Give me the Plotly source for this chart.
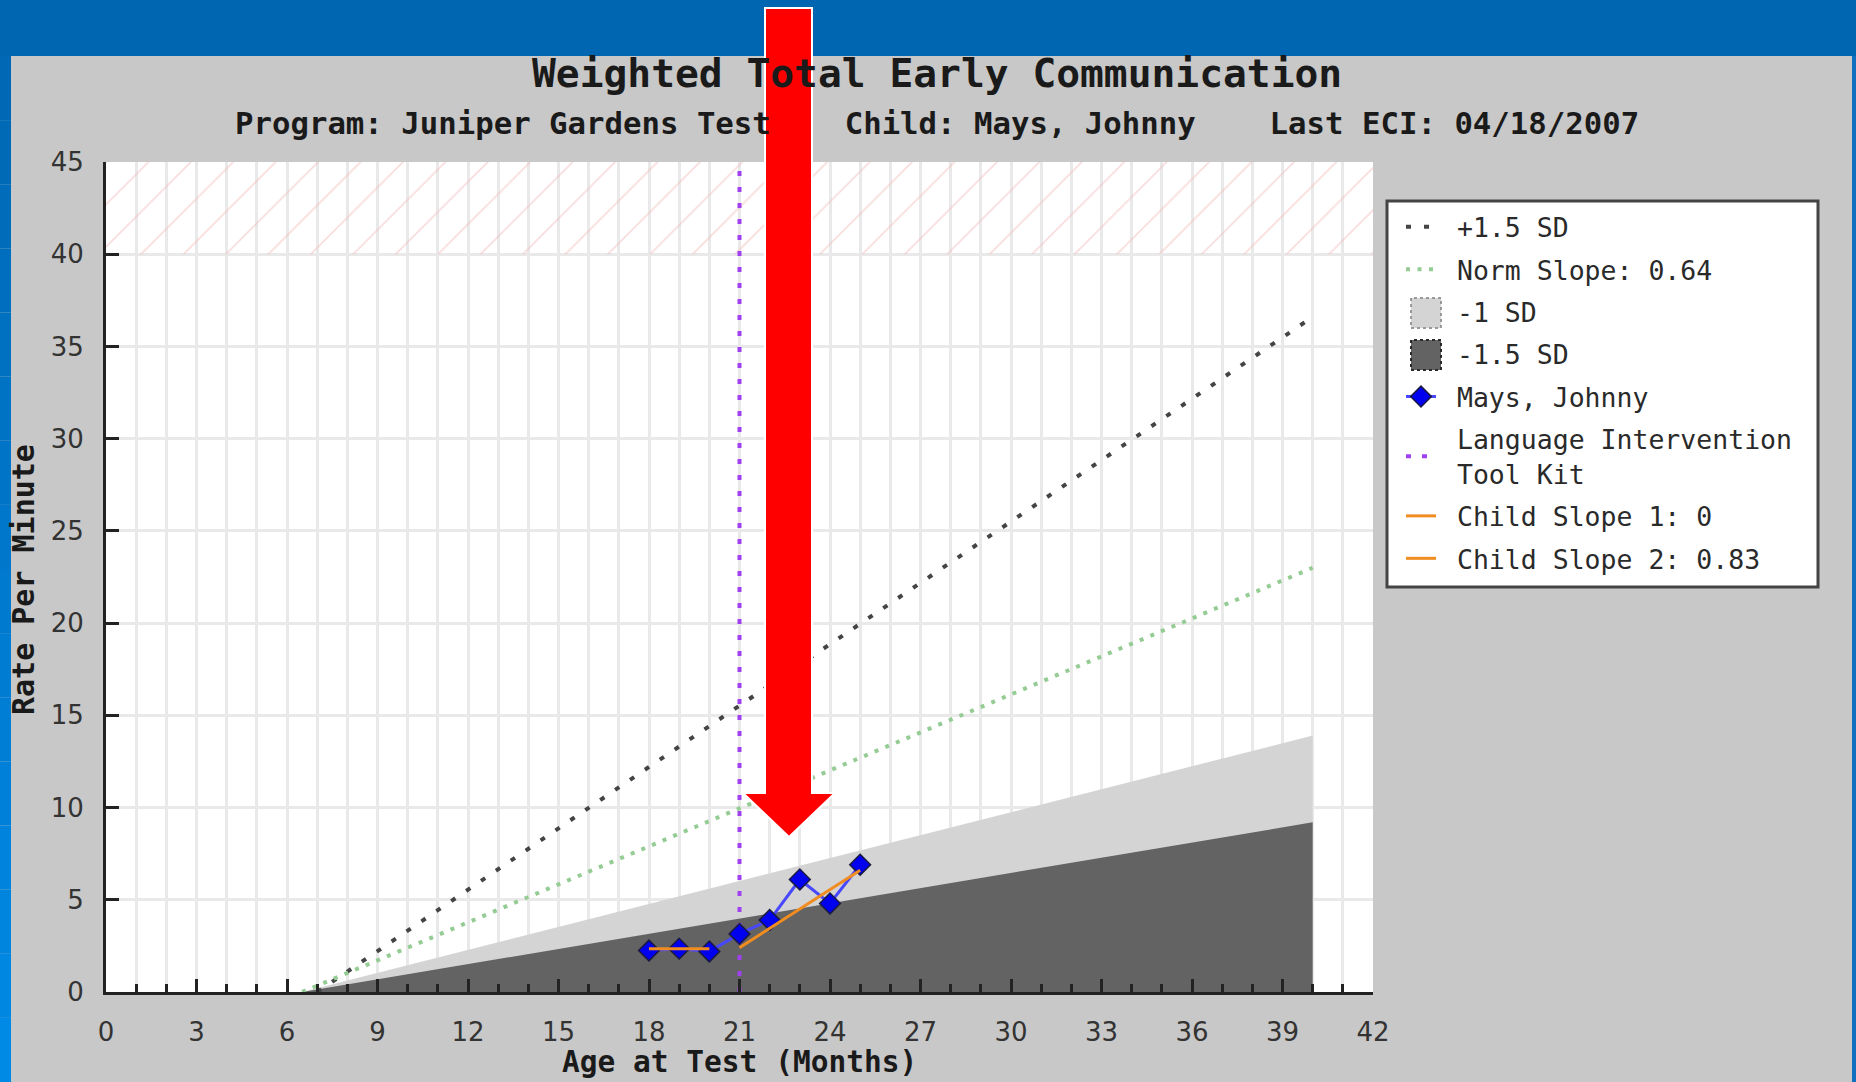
import plotly.graph_objects as go

W, H = 1856, 1082
L, R, T, B = 106, 483, 162, 90

# ---------------- data ----------------
band_age = [6.5, 40]
minus1_sd = [0, 13.9]
minus15_sd = [0, 9.2]
plus15_age = [7, 40]
plus15_sd = [0, 36.6]
norm_age = [6.5, 40]
norm_rate = [0, 23.0]
child_age = [18, 19, 20, 21, 22, 23, 24, 25]
child_rate = [2.25, 2.35, 2.2, 3.15, 3.9, 6.1, 4.8, 6.9]
slope1_age = [18, 20]
slope1_rate = [2.35, 2.35]
slope2_age = [21, 25]
slope2_rate = [2.4, 6.6]
intervention_age = 21
ceiling_low, ceiling_high = 40, 45
x_ticks = list(range(0, 43, 3))
x_minor = list(range(0, 43))
y_ticks = list(range(0, 46, 5))

title = "Weighted Total Early Communication"
subtitle = "Program: Juniper Gardens Test\u00a0\u00a0\u00a0\u00a0Child: Mays, Johnny\u00a0\u00a0\u00a0\u00a0Last ECI: 04/18/2007"

# ---------------- helpers (pixel -> paper) ----------------
PW, PH = W - L - R, H - T - B
def px(p):
    return (p - L) / PW
def py(p):
    return (H - B - p) / PH

NB = "\u00a0"
fig = go.Figure()

# -1 SD band (light) and -1.5 SD band (dark)
fig.add_trace(go.Scatter(x=band_age, y=minus1_sd, mode="none", fill="tozeroy",
                         fillcolor="#d4d4d4", showlegend=False, hoverinfo="skip"))
fig.add_trace(go.Scatter(x=band_age, y=minus15_sd, mode="none", fill="tozeroy",
                         fillcolor="#636363", showlegend=False, hoverinfo="skip"))

# legend entries for the bands (swatches drawn as shapes)
fig.add_trace(go.Scatter(x=[None], y=[None], mode="markers", name=NB + "-1 SD",
                         marker=dict(size=1, color="rgba(0,0,0,0)"),
                         legendrank=3, legendgroup="g3"))
fig.add_trace(go.Scatter(x=[None], y=[None], mode="markers", name=NB + "-1.5 SD",
                         marker=dict(size=1, color="rgba(0,0,0,0)"),
                         legendrank=4, legendgroup="g4"))

# hatched ceiling region
fig.add_trace(go.Scatter(x=[0, 42, 42, 0, 0],
                         y=[ceiling_low, ceiling_low, ceiling_high, ceiling_high, ceiling_low],
                         mode="none", fill="toself", fillcolor="rgba(0,0,0,0)",
                         fillpattern=dict(shape="/", size=30, solidity=0.06,
                                          fgcolor="#f2bcbc", bgcolor="rgba(0,0,0,0)"),
                         showlegend=False, hoverinfo="skip"))

fig.add_trace(go.Scatter(x=plus15_age, y=plus15_sd, mode="lines", name=NB + "+1.5 SD",
                         line=dict(color="#444444", width=4, dash="5px,13px"),
                         legendrank=1, legendgroup="g1"))
fig.add_trace(go.Scatter(x=norm_age, y=norm_rate, mode="lines", name=NB + "Norm Slope: 0.64",
                         line=dict(color="#94cc94", width=4, dash="4px,7.5px"),
                         legendrank=2, legendgroup="g2"))
fig.add_trace(go.Scatter(x=[intervention_age, intervention_age], y=[0, 45], mode="lines",
                         name=NB + "Language Intervention<br>" + NB + "Tool Kit",
                         line=dict(color="#a040f0", width=4, dash="5px,11px"),
                         legendrank=6, legendgroup="g6"))
fig.add_trace(go.Scatter(x=child_age, y=child_rate, mode="lines+markers", name=NB + "Mays, Johnny",
                         line=dict(color="#4848ff", width=3),
                         marker=dict(symbol="diamond", size=16, color="#0000f0",
                                     line=dict(color="#1a1a40", width=1.5)),
                         legendrank=5, legendgroup="g5"))
fig.add_trace(go.Scatter(x=slope1_age, y=slope1_rate, mode="lines", name=NB + "Child Slope 1: 0",
                         line=dict(color="#f08c20", width=3), legendrank=7, legendgroup="g7"))
fig.add_trace(go.Scatter(x=slope2_age, y=slope2_rate, mode="lines", name=NB + "Child Slope 2: 0.83",
                         line=dict(color="#f08c20", width=3), legendrank=8, legendgroup="g8"))

# ---------------- background shapes ----------------
shapes = []
blue = "#0066b2"
shapes.append(dict(type="rect", xref="paper", yref="paper", x0=px(0), x1=px(W), y0=py(56), y1=py(0),
                   fillcolor=blue, line=dict(width=0), layer="below"))
nstrip = 16
for i in range(nstrip):
    y0p = 56 + (H - 56) * i / nstrip
    y1p = 56 + (H - 56) * (i + 1) / nstrip
    t = i / (nstrip - 1)
    col = "rgb(0,%d,%d)" % (int(104 + 34 * t), int(180 + 50 * t))
    shapes.append(dict(type="rect", xref="paper", yref="paper", x0=px(0), x1=px(11),
                       y0=py(y1p), y1=py(y0p), fillcolor=col, line=dict(width=0), layer="below"))
shapes.append(dict(type="rect", xref="paper", yref="paper", x0=px(1852), x1=px(W), y0=py(H), y1=py(56),
                   fillcolor="#1070c0", line=dict(width=0), layer="below"))

# legend box and band swatches
shapes.append(dict(type="rect", xref="paper", yref="paper", x0=px(1387), x1=px(1818), y0=py(587), y1=py(201),
                   fillcolor="white", line=dict(color="#444", width=3), layer="below"))
for cy, fc, lc in [(313, "#d4d4d4", "#9a9a9a"), (355, "#636363", "#2a2a2a")]:
    shapes.append(dict(type="rect", xref="paper", yref="paper", x0=px(1411), x1=px(1441),
                       y0=py(cy + 15), y1=py(cy - 15), fillcolor=fc,
                       line=dict(color=lc, width=2, dash="dot"), layer="above"))

# red arrow overlay
pts = [(765, 8), (812, 8), (812, 793), (835, 793), (789, 837), (743, 793), (765, 793)]
path = "M " + " L ".join("%.5f,%.5f" % (px(a), py(b)) for a, b in pts) + " Z"
shapes.append(dict(type="path", xref="paper", yref="paper", path=path,
                   fillcolor="#ff0000", line=dict(color="white", width=2), layer="above"))

mono = "DejaVu Sans Mono"
annotations = [
    dict(x=px(937), y=py(73), xref="paper", yref="paper", text="<b>%s</b>" % title, showarrow=False,
         xanchor="center", yanchor="middle", font=dict(family=mono, size=39.6, color="#1a1a1a")),
    dict(x=px(937), y=py(123), xref="paper", yref="paper", text="<b>%s</b>" % subtitle, showarrow=False,
         xanchor="center", yanchor="middle", font=dict(family=mono, size=30.7, color="#1a1a1a")),
    dict(x=px(739), y=py(1062), xref="paper", yref="paper", text="<b>Age at Test (Months)</b>",
         showarrow=False, xanchor="center", yanchor="middle", font=dict(family=mono, size=29.5, color="#1a1a1a")),
    dict(x=px(23), y=py(580), xref="paper", yref="paper", text="<b>Rate Per Minute</b>", textangle=-90,
         showarrow=False, xanchor="center", yanchor="middle", font=dict(family=mono, size=30, color="#1a1a1a")),
]

grid = "#e9e9e9"
fig.update_layout(
    width=W, height=H, margin=dict(l=L, r=R, t=T, b=B, autoexpand=False),
    paper_bgcolor="#c8c8c8", plot_bgcolor="white",
    shapes=shapes, annotations=annotations,
    xaxis=dict(range=[0, 42], tickmode="array", tickvals=x_ticks, ticks="inside", ticklen=13, tickwidth=3,
               tickcolor="#222", showline=True, linecolor="#222", linewidth=3,
               showgrid=True, gridcolor=grid, gridwidth=3, zeroline=False,
               minor=dict(tickmode="array", tickvals=x_minor, ticks="inside", ticklen=8, tickwidth=3,
                          tickcolor="#222", showgrid=True, gridcolor=grid, gridwidth=3),
               tickfont=dict(family="DejaVu Sans", size=26, color="#333"), ticklabelstandoff=15),
    yaxis=dict(range=[0, 45], tickmode="array", tickvals=y_ticks, ticks="inside", ticklen=13, tickwidth=3,
               tickcolor="#222", showline=True, linecolor="#222", linewidth=3,
               showgrid=True, gridcolor=grid, gridwidth=3, zeroline=False,
               tickfont=dict(family="DejaVu Sans", size=26, color="#333"), ticklabelstandoff=14),
    legend=dict(x=px(1387), y=py(203), xanchor="left", yanchor="top", bgcolor="rgba(0,0,0,0)",
                borderwidth=0, traceorder="grouped", tracegroupgap=5, indentation=14,
                font=dict(family=mono, size=26.5, color="#2a2a2a"), itemwidth=30),
    showlegend=True,
)

fig.write_html("out.html", config={"displayModeBar": False},
               post_script="document.body.style.margin='0';document.body.style.overflow='hidden';")
